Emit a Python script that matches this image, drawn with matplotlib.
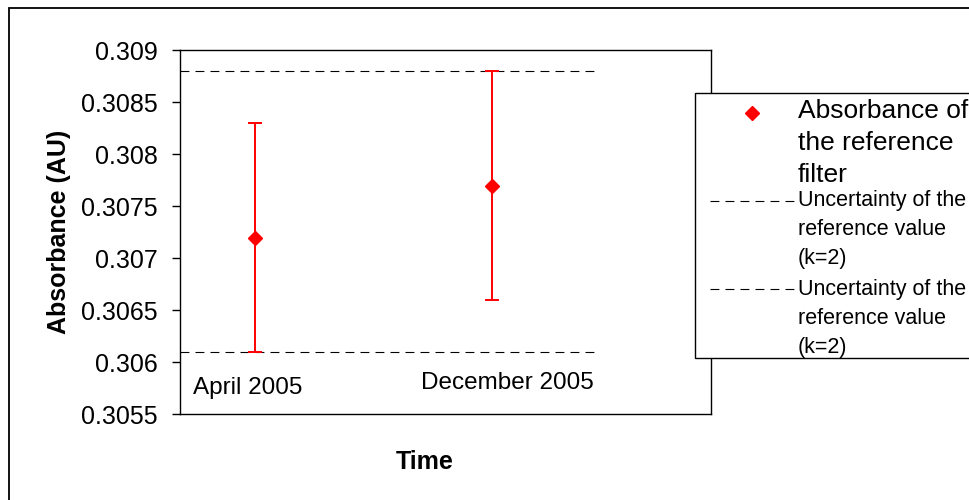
import numpy as np
import matplotlib
matplotlib.use("Agg")
import matplotlib.pyplot as plt
from matplotlib.legend_handler import HandlerLine2D
from matplotlib.patches import Rectangle
from matplotlib.offsetbox import DrawingArea

plt.rcParams['font.family'] = ['Liberation Sans', 'DejaVu Sans']

# ---- data ----
categories = ["April 2005", "December 2005"]
absorbance = [0.30719, 0.30769]
err_upper = [0.30830, 0.30880]
err_lower = [0.30610, 0.30660]
ref_upper = 0.30880
ref_lower = 0.30610
y_ticks = [0.3055, 0.306, 0.3065, 0.307, 0.3075, 0.308, 0.3085, 0.309]
y_tick_labels = ["0.3055", "0.306", "0.3065", "0.307", "0.3075", "0.308", "0.3085", "0.309"]
legend_labels = ["Absorbance of\nthe reference\nfilter",
                 "Uncertainty of the\nreference value\n(k=2)",
                 "Uncertainty of the\nreference value\n(k=2)"]

# layout positions (in axis data units)
x_pos = [1.41, 5.87]
line_x = [0.0, 7.91]
label_x = [1.28, 6.16]
label_y = [0.30575, 0.30580]

fig = plt.figure(figsize=(9.7, 5.0), dpi=100)
ax = fig.add_axes([180/970, 1-414/500, 531/970, 364/500])

yerr = [np.array(absorbance) - np.array(err_lower), np.array(err_upper) - np.array(absorbance)]
ax.errorbar(x_pos, absorbance, yerr=yerr, fmt='D', color='#ff0000', ecolor='#ff0000',
            markersize=7, elinewidth=1.4, capsize=5.3, capthick=1.4,
            label=legend_labels[0], zorder=3)
l1, = ax.plot(line_x, [ref_upper, ref_upper], color='black', lw=0.8, dashes=(8, 5.5),
              label=legend_labels[1])
l2, = ax.plot(line_x, [ref_lower, ref_lower], color='black', lw=0.8, dashes=(8, 5.5),
              label=legend_labels[2])

for cx, cy, txt in zip(label_x, label_y, categories):
    ax.text(cx, cy, txt, ha='center', va='center', fontsize=17.5)

ax.set_xlim(0, 10)
ax.set_ylim(0.3055, 0.309)
ax.set_yticks(y_ticks)
ax.set_yticklabels(y_tick_labels, fontsize=18)
ax.set_xticks([])
ax.tick_params(axis='y', direction='out', length=6, width=1, pad=10)
for s in ax.spines.values():
    s.set_linewidth(1)
ax.set_ylabel("Absorbance (AU)", fontsize=18, fontweight='bold')
ax.yaxis.set_label_coords((71-180)/531, 0.5)
ax.set_xlabel("Time", fontsize=18, fontweight='bold')
ax.xaxis.set_label_coords((425-180)/531, -0.10)


class PlacedHandler(HandlerLine2D):
    """Places the legend handle at a given x-range / vertical shift (points)."""
    def __init__(self, shift=0.0, xr=None, **kw):
        super().__init__(**kw)
        self.shift = shift
        self.xr = xr

    def create_artists(self, legend, orig_handle, xdescent, ydescent, width, height, fontsize, trans):
        arts = super().create_artists(legend, orig_handle, xdescent, ydescent, width, height, fontsize, trans)
        for a in arts:
            yd = np.asarray(a.get_ydata(), dtype=float)
            n = len(yd)
            y0 = float(np.mean(yd)) + self.shift
            if self.xr is not None:
                a.set_xdata(np.linspace(self.xr[0], self.xr[1], n))
            a.set_ydata(np.full(n, y0))
        return arts


LFS = 19
mk_handle = plt.Line2D([], [], marker='D', color='#ff0000', linestyle='None', markersize=7)
leg = fig.legend([mk_handle, l1, l2], legend_labels,
                 loc='upper left', bbox_to_anchor=(695/970, 1-96.5/500),
                 bbox_transform=fig.transFigure, fontsize=LFS,
                 handlelength=3.68, handletextpad=0.12, borderpad=0.1,
                 labelspacing=0.125, borderaxespad=0, frameon=False,
                 handler_map={mk_handle: PlacedHandler(shift=22, xr=(8.9, 70)),
                              l1: PlacedHandler(shift=20, xr=(8.9, 70)),
                              l2: PlacedHandler(shift=20, xr=(8.9, 70))})
leg.set_zorder(6)
texts = leg.get_texts()
texts[0].set_linespacing(1.41)
for t in texts[1:]:
    t.set_fontsize(15.5)
    t.set_linespacing(1.5)

# extra gap before the third legend entry
try:
    col = leg._legend_handle_box.get_children()[0]
    col.get_children().insert(2, DrawingArea(1, 2.3))
except Exception:
    pass

# legend frame
fig.patches.append(Rectangle((695/970, 1-357.7/500), 0.5, (357.7-92.7)/500,
                             transform=fig.transFigure, facecolor='white',
                             edgecolor='black', linewidth=1, figure=fig, zorder=5))

# outer chart-area border
fig.patches.append(Rectangle((9/970, -0.1), 2, 1.1 - 8/500, transform=fig.transFigure,
                             fill=False, edgecolor='black', linewidth=1.3, figure=fig))

fig.savefig("out.png", dpi=100)
